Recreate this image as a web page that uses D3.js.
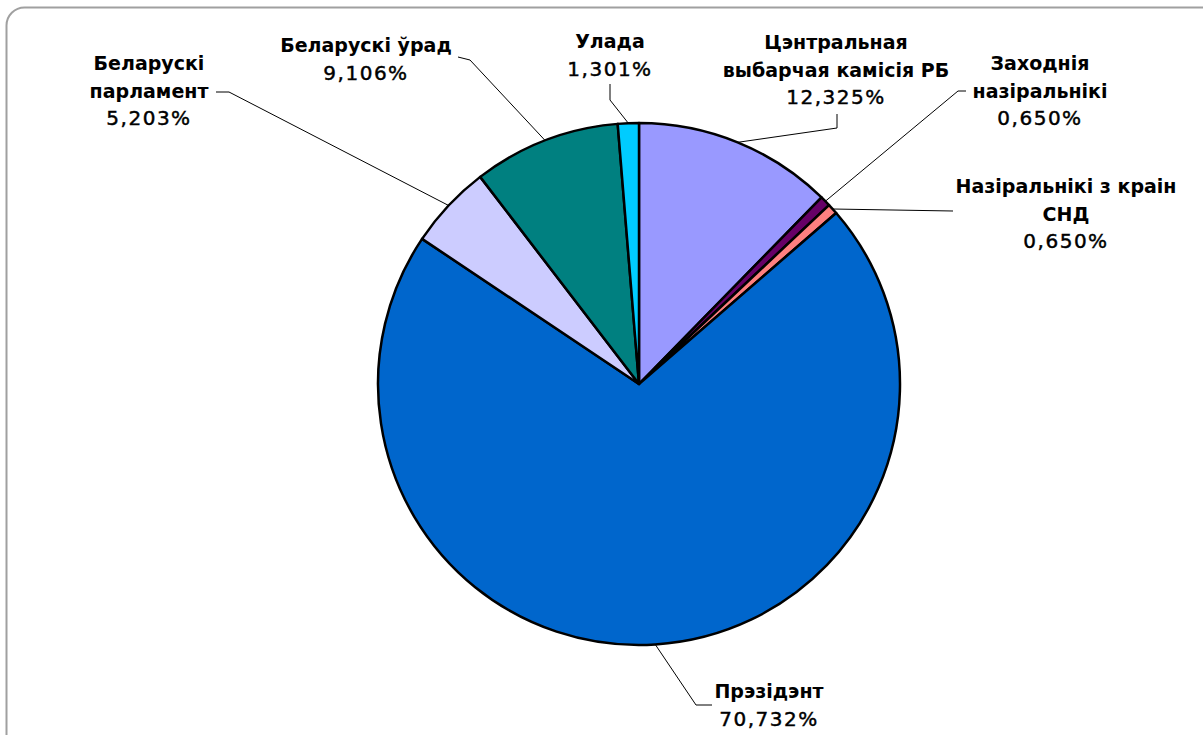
<!DOCTYPE html>
<html><head><meta charset="utf-8">
<script src="https://cdn.jsdelivr.net/npm/d3@7"></script>
<style>
html,body{margin:0;padding:0;background:#fff;}
svg{display:block;}
text{font-family:"DejaVu Sans",Verdana,sans-serif;font-size:19px;fill:#000;}
</style></head>
<body>
<svg id="c" width="1203" height="735"></svg>
<script>
const categories = ["Цэнтральная выбарчая камісія РБ","Заходнія назіральнікі","Назіральнікі з краін СНД","Прэзідэнт","Беларускі парламент","Беларускі ўрад","Улада"];
const values = [12.325, 0.650, 0.650, 70.732, 5.203, 9.106, 1.301];
const valueLabels = ["12,325%","0,650%","0,650%","70,732%","5,203%","9,106%","1,301%"];
const labelLines = [["Цэнтральная","выбарчая камісія РБ"],["Заходнія","назіральнікі"],["Назіральнікі з краін","СНД"],["Прэзідэнт"],["Беларускі","парламент"],["Беларускі ўрад"],["Улада"]];
const colors = ["#9999FF","#660066","#FF8080","#0066CC","#CCCCFF","#008080","#00CCFF"];

// layout: label block center x, first baseline y, and leader elbow points
const layout = [
  {x:836, y:49, pts:[[837,128],[837,114]]},
  {x:1040, y:70, pts:[[958,91],[966,91]]},
  {x:1066, y:193, pts:[[953,211]]},
  {x:769, y:698, pts:[[696,705],[712,705]]},
  {x:149, y:70, pts:[[229,92],[216,92]]},
  {x:366, y:52, pts:[[470,60],[458,57]]},
  {x:610, y:48, pts:[[610,100],[610,84]]}
];

const svg = d3.select("#c");
svg.append("rect").attr("x",6.5).attr("y",7.5).attr("width",1215).attr("height",745)
  .attr("rx",18).attr("fill","#fff").attr("stroke","#a0a0a0").attr("stroke-width",2);

const cx = 639, cy = 384, R = 261;
const data = categories.map((c,i)=>({c, v:values[i], i}));
const pie = d3.pie().value(d=>d.v).sort(null);
const arcs = pie(data);
const arc = d3.arc().innerRadius(0).outerRadius(R);
const g = svg.append("g").attr("transform",`translate(${cx},${cy})`);
g.selectAll("path").data(arcs).enter().append("path")
  .attr("d",arc).attr("fill",d=>colors[d.data.i])
  .attr("stroke","#000").attr("stroke-width",2.5).attr("stroke-linejoin","round");

// leaders
arcs.forEach((a,i)=>{
  const m = (a.startAngle+a.endAngle)/2;
  const p0 = [cx + R*Math.sin(m), cy - R*Math.cos(m)];
  const pts = [p0, ...layout[i].pts];
  svg.append("path").attr("d", d3.line()(pts)).attr("fill","none")
    .attr("stroke","#000").attr("stroke-width",1);
});

// labels
arcs.forEach((a,i)=>{
  const L = layout[i];
  const t = svg.append("text").attr("text-anchor","middle");
  const lines = labelLines[i];
  lines.forEach((ln,k)=>{
    t.append("tspan").attr("x",L.x).attr("y",L.y + k*27.5).attr("font-weight","bold").text(ln);
  });
  t.append("tspan").attr("x",L.x).attr("y",L.y + lines.length*27.5)
    .attr("font-size","20px").attr("letter-spacing","1.5px")
    .attr("stroke","#000").attr("stroke-width",0.45).text(valueLabels[i]);
});
</script>
</body></html>
